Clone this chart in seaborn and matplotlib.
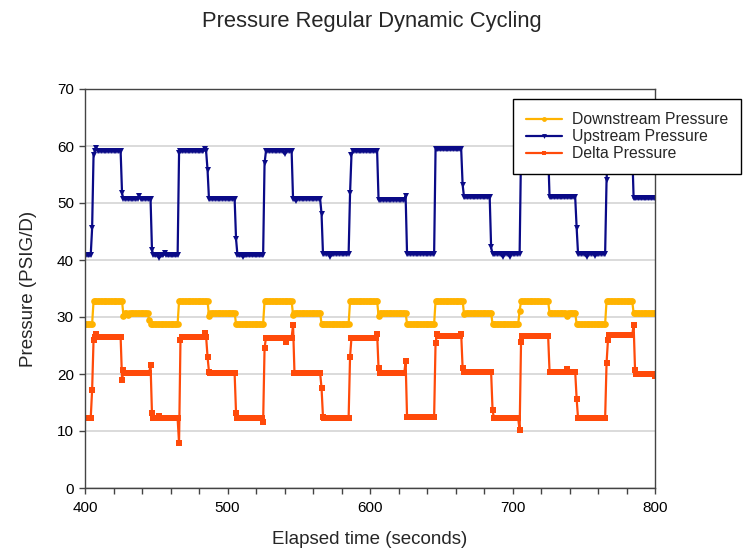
import numpy as np
import pandas as pd
import matplotlib
matplotlib.use("Agg")
import matplotlib.pyplot as plt
import seaborn as sns
from matplotlib.ticker import MultipleLocator

sns.set_theme(style="white")
plt.rcParams['font.family'] = ['Liberation Sans', 'DejaVu Sans']

# logger samples once a second
time_start, time_end = 400, 800

# step segments: each level holds from seg_start[i] until the next start
seg_start = [400, 406, 426, 447, 466, 486, 506, 526, 546, 566, 586,
             606, 626, 646, 665, 686, 706, 726, 745, 766, 785]

upstream_level = [40.8, 59.1, 50.7, 40.8, 59.1, 50.7, 40.8, 59.1, 50.7, 41.1, 59.1,
                  50.6, 41.1, 59.4, 51.0, 41.1, 59.3, 51.0, 41.1, 59.3, 50.8]
downstream_level = [28.8, 32.8, 30.7, 28.8, 32.8, 30.7, 28.8, 32.8, 30.7, 28.8, 32.8,
                    30.7, 28.8, 32.8, 30.7, 28.8, 32.8, 30.7, 28.8, 32.8, 30.7]
delta_level = [12.2, 26.5, 20.1, 12.2, 26.5, 20.1, 12.2, 26.4, 20.2, 12.3, 26.4,
               20.1, 12.5, 26.6, 20.3, 12.2, 26.7, 20.4, 12.2, 26.8, 20.0]

# transition and outlier samples
upstream_pts_t = [405, 406, 408, 426, 438, 447, 452, 456, 466, 484, 486, 506, 511,
                  526, 540, 548, 566, 572, 586, 587, 625, 665, 685, 693, 698,
                  745, 752, 758, 766]
upstream_pts_v = [45.6, 58.5, 59.6, 51.7, 51.2, 41.8, 40.4, 41.2, 58.7, 59.4, 55.8, 43.7, 40.5,
                  57.0, 58.6, 50.3, 48.1, 40.6, 51.7, 58.5, 51.2, 53.2, 42.2, 40.6, 40.6,
                  45.7, 40.6, 40.7, 54.0]

downstream_pts_t = [426, 427, 430, 445, 446, 486, 487, 546, 606, 665, 666, 705, 738]
downstream_pts_v = [32.8, 30.2, 30.3, 29.5, 28.8, 32.8, 30.2, 30.35, 30.2, 32.8, 30.5, 31.1, 30.2]

delta_pts_t = [405, 406, 408, 426, 427, 446, 447, 452, 466, 467, 484, 486, 487,
               506, 525, 526, 541, 546, 566, 567, 586, 605, 606, 625, 646, 647,
               664, 665, 686, 705, 706, 738, 745, 766, 767, 785, 786, 800]
delta_pts_v = [17.2, 26.0, 27.0, 19.0, 20.7, 21.6, 13.1, 12.7, 7.9, 26.0, 27.2, 23.0, 20.4,
               13.1, 11.5, 24.5, 25.7, 28.6, 17.5, 12.5, 23.0, 27.1, 21.0, 22.2, 25.4, 27.0,
               27.0, 21.0, 13.7, 10.1, 25.7, 20.8, 15.7, 21.9, 26.0, 28.6, 20.7, 19.6]

DOWN_COLOR = '#FFB300'
UP_COLOR = '#0A0A87'
DELTA_COLOR = '#FF4A0A'


def build_series(levels, pts_t, pts_v):
    t = np.arange(time_start, time_end + 1)
    idx = np.searchsorted(seg_start, t, side='right') - 1
    vals = np.asarray(levels, dtype=float)[idx]
    for tt, vv in zip(pts_t, pts_v):
        vals[tt - time_start] = vv
    return t, vals


t, up = build_series(upstream_level, upstream_pts_t, upstream_pts_v)
_, down = build_series(downstream_level, downstream_pts_t, downstream_pts_v)
_, delta = build_series(delta_level, delta_pts_t, delta_pts_v)

df = pd.DataFrame({'time': t, 'Downstream Pressure': down,
                   'Upstream Pressure': up, 'Delta Pressure': delta})

fig = plt.figure(figsize=(7.44, 5.56), dpi=100)
ax = fig.add_axes([85 / 744, 1 - 488 / 556, 570 / 744, 399 / 556])

styles = [('Downstream Pressure', DOWN_COLOR, 'o'),
          ('Upstream Pressure', UP_COLOR, 'v'),
          ('Delta Pressure', DELTA_COLOR, 's')]
for name, color, marker in styles:
    sns.lineplot(data=df, x='time', y=name, ax=ax, color=color, marker=marker,
                 markersize=4.8, markeredgewidth=0, linewidth=1.6, label=name)

ax.set_xlim(400, 800)
ax.set_ylim(0, 70)
ax.xaxis.set_major_locator(MultipleLocator(100))
ax.xaxis.set_minor_locator(MultipleLocator(20))
ax.yaxis.set_major_locator(MultipleLocator(10))
ax.yaxis.grid(True, color='#d4d4d4', linewidth=1.2)
ax.xaxis.grid(False)
ax.set_axisbelow(True)
for side in ['left', 'bottom', 'top', 'right']:
    ax.spines[side].set_color('#444444')
    ax.spines[side].set_linewidth(1.0)
ax.tick_params(axis='both', which='both', direction='out', length=4, width=1,
               color='#444444', labelsize=11, labelcolor='black')
ax.tick_params(axis='x', which='both', bottom=True, pad=5)
ax.tick_params(axis='y', which='major', left=True, pad=4)

ax.set_xlabel('Elapsed time (seconds)', fontsize=13.5, labelpad=12)
ax.set_ylabel('Pressure (PSIG/D)', fontsize=13.5, labelpad=14)
fig.text(0.5, 1 - 21 / 556, 'Pressure Regular Dynamic Cycling', ha='center', va='center',
         fontsize=15.8)

ax.get_legend().remove()
handles, labels = ax.get_legend_handles_labels()
leg = fig.legend(handles, labels, loc='upper left',
                 bbox_to_anchor=(513 / 744, 1 - 99 / 556), fontsize=11.3,
                 frameon=True, fancybox=False, edgecolor='black', framealpha=1,
                 borderpad=0.85, borderaxespad=0, handlelength=2.3,
                 handletextpad=0.6, labelspacing=0.12)
leg.get_frame().set_linewidth(1.0)
for h in leg.legend_handles:
    h.set_markersize(3.5)

fig.savefig('out.png', dpi=100)
